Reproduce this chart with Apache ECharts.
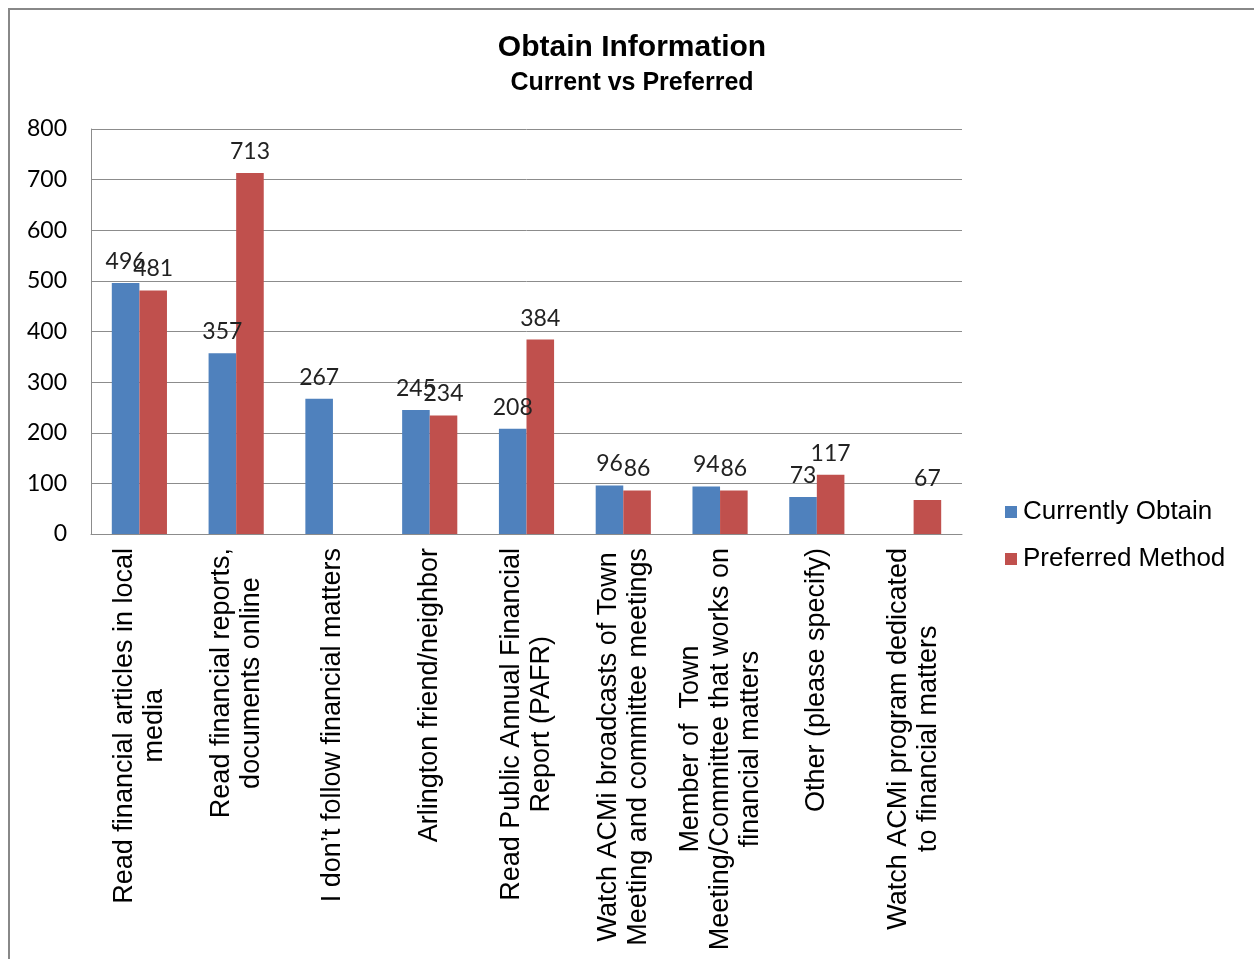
<!DOCTYPE html>
<html>
<head>
<meta charset="utf-8">
<script src="https://cdn.jsdelivr.net/npm/echarts@6/dist/echarts.min.js"></script>
<style>
html,body{margin:0;padding:0;background:#fff;}
#chart{width:1254px;height:959px;}
</style>
</head>
<body>
<div id="chart"></div>
<script>
const categories = [
  "Read financial articles in local\nmedia",
  "Read financial reports,\ndocuments online",
  "I don\u2019t follow financial matters",
  "Arlington friend/neighbor",
  "Read Public Annual Financial\nReport (PAFR)",
  "Watch ACMi broadcasts of Town\nMeeting and committee meetings",
  "Member of  Town\nMeeting/Committee that works on\nfinancial matters",
  "Other (please specify)",
  "Watch ACMi program dedicated\nto financial matters"
];
const currentlyObtain = [496, 357, 267, 245, 208, 96, 94, 73, null];
const preferredMethod = [481, 713, null, 234, 384, 86, 86, 117, 67];
const yTicks = { min: 0, max: 800, interval: 100 };

const chart = echarts.init(document.getElementById('chart'));
const gridColor = '#8c8c8c';
const numFont = 'Lato';
const textFont = '"Liberation Sans", Arial, sans-serif';

chart.setOption({
  backgroundColor: '#ffffff',
  animation: false,
  graphic: [{
    type: 'rect',
    shape: { x: 9, y: 9, width: 1400, height: 1100 },
    style: { fill: 'none', stroke: '#888888', lineWidth: 2 },
    silent: true
  }],
  title: {
    text: 'Obtain Information',
    subtext: 'Current vs Preferred',
    left: 632,
    textAlign: 'center',
    top: 33,
    padding: 0,
    itemGap: 8,
    textStyle: { fontFamily: textFont, fontWeight: 'bold', fontSize: 30, color: '#000' },
    subtextStyle: { fontFamily: textFont, fontWeight: 'bold', fontSize: 25, color: '#000' }
  },
  legend: {
    orient: 'vertical',
    left: 1005,
    top: 499,
    padding: 0,
    itemWidth: 12,
    itemHeight: 12,
    itemGap: 21,
    icon: 'rect',
    textStyle: { fontFamily: textFont, fontSize: 26, color: '#000', padding: [0, 0, 0, 1] },
    data: ['Currently Obtain', 'Preferred Method']
  },
  grid: { left: 91, right: 292, top: 129, bottom: 425, containLabel: false },
  xAxis: {
    type: 'category',
    data: categories,
    axisLine: { show: true, lineStyle: { color: gridColor, width: 1 } },
    axisTick: { show: false },
    axisLabel: {
      interval: 0,
      rotate: 90,
      margin: 14,
      color: '#000',
      formatter: function (v) {
        return v.split('\n').map(function (s) { return '{c|' + s + '}'; }).join('\n');
      },
      rich: {
        c: { align: 'center', fontFamily: textFont, fontSize: 27, lineHeight: 30, color: '#000' }
      }
    }
  },
  yAxis: {
    type: 'value',
    min: yTicks.min,
    max: yTicks.max,
    interval: yTicks.interval,
    axisLine: { show: true, lineStyle: { color: gridColor, width: 1 } },
    axisTick: { show: false },
    splitLine: { show: true, lineStyle: { color: gridColor, width: 1 } },
    axisLabel: { margin: 24, fontFamily: numFont, fontSize: 23, color: '#000' }
  },
  series: [
    {
      name: 'Currently Obtain',
      type: 'bar',
      data: currentlyObtain,
      barGap: '0%',
      barCategoryGap: '43%',
      itemStyle: { color: '#4F81BD' },
      label: { show: true, position: 'top', distance: 10, fontFamily: numFont, fontSize: 23, color: '#222' }
    },
    {
      name: 'Preferred Method',
      type: 'bar',
      data: preferredMethod,
      barGap: '0%',
      barCategoryGap: '43%',
      itemStyle: { color: '#C0504D' },
      label: { show: true, position: 'top', distance: 10, fontFamily: numFont, fontSize: 23, color: '#222' }
    }
  ]
});
</script>
</body>
</html>
